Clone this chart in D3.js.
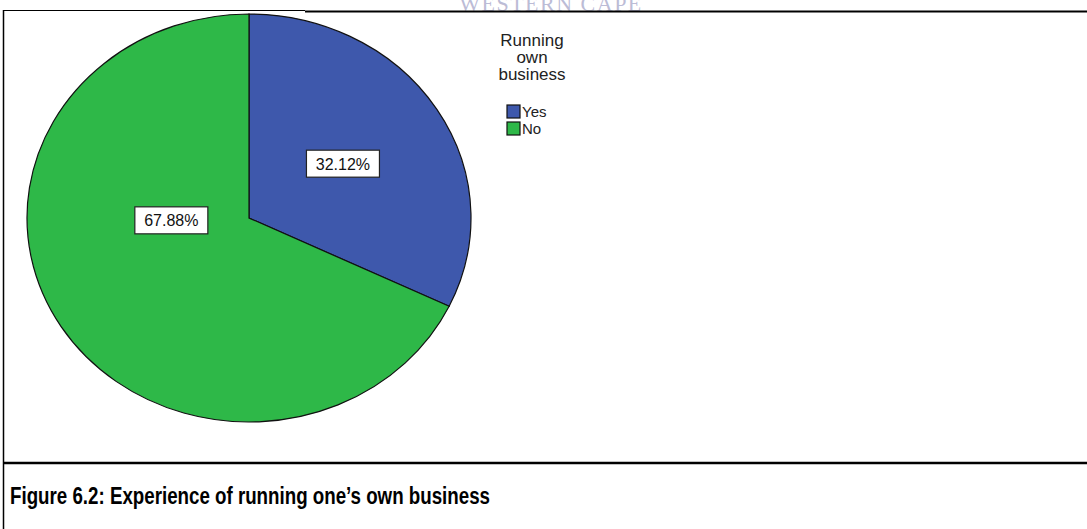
<!DOCTYPE html>
<html lang="en">
<head>
  <meta charset="utf-8">
  <title>Figure 6.2</title>
  <script src="https://d3js.org/d3.v7.min.js"></script>
  <style>
    body { margin: 0; background: #fff; }
    text { font-family: "Liberation Sans", Arial, sans-serif; }
  </style>
</head>
<body>
<script>
  // data
  var categories = ["Yes", "No"];
  var percents = [32.12, 67.88];
  var colors = ["#3e58ac", "#2eb848"];
  var legendTitle = ["Running", "own", "business"];
  var caption = "Figure 6.2: Experience of running one\u2019s own business";

  var W = 1087, H = 529;
  var cx = 249, cy = 218, rx = 222, ry = 204;

  var svg = d3.select("body").append("svg")
    .attr("width", W)
    .attr("height", H);

  // faint watermark at the very top, partly cut off as in the scan
  svg.append("text")
    .attr("x", 551)
    .attr("y", 11)
    .attr("text-anchor", "middle")
    .style("font-family", "'Liberation Serif', 'Times New Roman', serif")
    .style("font-size", "22px")
    .style("letter-spacing", "1.5px")
    .attr("fill", "#bcbcd6")
    .text("WESTERN CAPE");

  // frame lines
  svg.append("line").attr("x1", 3).attr("x2", 305).attr("y1", 10.5).attr("y2", 10.5)
    .attr("stroke", "#000").attr("stroke-width", 1.2);
  svg.append("line").attr("x1", 305).attr("x2", W).attr("y1", 11.5).attr("y2", 11.5)
    .attr("stroke", "#000").attr("stroke-width", 2);
  svg.append("line").attr("x1", 3.5).attr("x2", 3.5).attr("y1", 10).attr("y2", H)
    .attr("stroke", "#000").attr("stroke-width", 1.5);
  svg.append("line").attr("x1", 3).attr("x2", W).attr("y1", 463).attr("y2", 463)
    .attr("stroke", "#000").attr("stroke-width", 2.5);

  // pie, stretched a little horizontally like the original
  var pie = d3.pie().sort(null).value(function (d) { return d; });
  var arcs = pie(percents);
  var arc = d3.arc().innerRadius(0).outerRadius(ry);

  var g = svg.append("g")
    .attr("transform", "translate(" + cx + "," + cy + ") scale(" + (rx / ry) + ",1)");

  g.selectAll("path")
    .data(arcs)
    .enter()
    .append("path")
    .attr("d", arc)
    .attr("fill", function (d, i) { return colors[i]; })
    .attr("stroke", "#111")
    .attr("stroke-width", 1.2)
    .attr("vector-effect", "non-scaling-stroke");

  // label placement: fraction along the slice and fraction of the radius
  var labelFrac = [0.5, 0.624];
  var labelRad = [0.5, 0.35];

  var labels = svg.selectAll("g.lbl")
    .data(arcs)
    .enter()
    .append("g")
    .attr("class", "lbl")
    .attr("transform", function (d, i) {
      var a = d.startAngle + (d.endAngle - d.startAngle) * labelFrac[i];
      var r = ry * labelRad[i];
      var x = cx + Math.sin(a) * r * (rx / ry);
      var y = cy - Math.cos(a) * r;
      return "translate(" + x + "," + y + ")";
    });

  labels.append("rect")
    .attr("x", -36.5)
    .attr("y", -13.5)
    .attr("width", 73)
    .attr("height", 27)
    .attr("fill", "#fff")
    .attr("stroke", "#222")
    .attr("stroke-width", 1.2);

  labels.append("text")
    .attr("text-anchor", "middle")
    .attr("y", 6)
    .style("font-size", "16px")
    .attr("fill", "#111")
    .text(function (d) { return d3.format(".2f")(d.data) + "%"; });

  // legend
  var legend = svg.append("g").attr("transform", "translate(532,0)");

  legend.selectAll("text.title")
    .data(legendTitle)
    .enter()
    .append("text")
    .attr("class", "title")
    .attr("text-anchor", "middle")
    .attr("y", function (d, i) { return 46 + i * 17; })
    .style("font-size", "17px")
    .attr("fill", "#222")
    .text(function (d) { return d; });

  var items = svg.selectAll("g.item")
    .data(categories)
    .enter()
    .append("g")
    .attr("class", "item")
    .attr("transform", function (d, i) { return "translate(507," + (105 + i * 17) + ")"; });

  items.append("rect")
    .attr("width", 13)
    .attr("height", 13)
    .attr("fill", function (d, i) { return colors[i]; })
    .attr("stroke", "#111")
    .attr("stroke-width", 1.2);

  items.append("text")
    .attr("x", 15)
    .attr("y", 12)
    .style("font-size", "15px")
    .attr("fill", "#222")
    .text(function (d) { return d; });

  // caption: tall, condensed bold face like the scan
  svg.append("text")
    .attr("x", 10)
    .attr("y", 504)
    .attr("textLength", 480)
    .attr("lengthAdjust", "spacingAndGlyphs")
    .style("font-size", "23px")
    .style("font-weight", "bold")
    .attr("fill", "#000")
    .text(caption);
</script>
</body>
</html>
